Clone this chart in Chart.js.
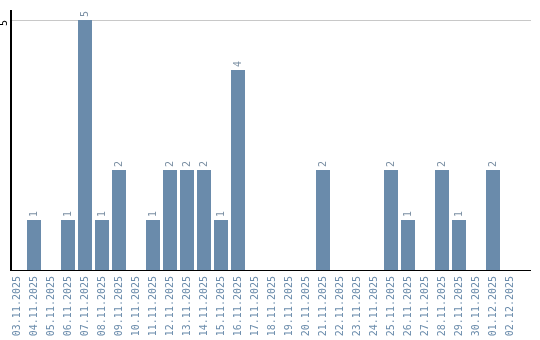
<!DOCTYPE html>
<html>
<head>
<meta charset="utf-8">
<script src="https://cdn.jsdelivr.net/npm/chart.js@4/dist/chart.umd.min.js"></script>
<style>
  html, body { margin: 0; padding: 0; background: #fff; }
  #wrap { width: 540px; height: 340px; }
</style>
</head>
<body>
<div id="wrap"><canvas id="c" width="540" height="340"></canvas></div>
<script>
const categories = ["03.11.2025","04.11.2025","05.11.2025","06.11.2025","07.11.2025","08.11.2025","09.11.2025","10.11.2025","11.11.2025","12.11.2025","13.11.2025","14.11.2025","15.11.2025","16.11.2025","17.11.2025","18.11.2025","19.11.2025","20.11.2025","21.11.2025","22.11.2025","23.11.2025","24.11.2025","25.11.2025","26.11.2025","27.11.2025","28.11.2025","29.11.2025","30.11.2025","01.12.2025","02.12.2025"];
const counts = [0,1,0,1,5,1,2,0,1,2,2,2,1,4,0,0,0,0,2,0,0,0,2,1,0,2,1,0,2,0];
const yTicks = [5];
const yMax = 5.2;

const BAR = 'rgb(106,139,171)';
const LABEL = 'rgb(106,139,171)';
const FONT = '"DejaVu Sans Mono", monospace';

const decor = {
  id: 'decor',
  beforeDatasetsDraw(chart) {
    const ctx = chart.ctx, y = chart.scales.y;
    ctx.save();
    ctx.fillStyle = '#c8c8c8';
    yTicks.forEach(v => {
      const py = Math.round(y.getPixelForValue(v));
      ctx.fillRect(10, py, 521, 1);
    });
    ctx.restore();
  },
  afterDatasetsDraw(chart) {
    const ctx = chart.ctx, a = chart.chartArea;
    ctx.save();
    ctx.fillStyle = '#000';
    ctx.fillRect(10, a.top, 2, a.bottom - a.top + 1);
    ctx.fillRect(10, a.bottom, 521, 1);
    // value labels
    const meta = chart.getDatasetMeta(0);
    ctx.fillStyle = '#7b8fa3';
    ctx.font = '10px ' + FONT;
    ctx.textAlign = 'left';
    ctx.textBaseline = 'middle';
    meta.data.forEach((el, i) => {
      const v = counts[i];
      if (!v) return;
      ctx.save();
      ctx.translate(el.x, el.y - 3);
      ctx.rotate(-Math.PI / 2);
      ctx.fillText(String(v), 0, 0);
      ctx.restore();
    });
    ctx.restore();
  }
};

new Chart(document.getElementById('c'), {
  type: 'bar',
  data: {
    labels: categories,
    datasets: [{
      data: counts,
      backgroundColor: BAR,
      borderWidth: 0,
      categoryPercentage: 1,
      barPercentage: 14 / 17
    }]
  },
  options: {
    responsive: false,
    animation: false,
    devicePixelRatio: 1,
    layout: { padding: { top: 10, right: 21.5, left: 0, bottom: 0 } },
    plugins: { legend: { display: false }, tooltip: { enabled: false } },
    scales: {
      x: {
        offset: true,
        grid: { display: false, drawTicks: false },
        border: { display: false },
        ticks: {
          autoSkip: false,
          minRotation: 90,
          maxRotation: 90,
          padding: 6,
          color: LABEL,
          font: { family: FONT, size: 10 }
        },
        afterFit(s) { s.height = 70; }
      },
      y: {
        min: 0,
        max: yMax,
        grid: { display: false, drawTicks: false },
        border: { display: false },
        afterBuildTicks(s) { s.ticks = yTicks.map(v => ({ value: v })); },
        ticks: {
          minRotation: 90,
          maxRotation: 90,
          padding: 4,
          color: '#000',
          font: { family: FONT, size: 10 }
        },
        afterFit(s) { s.width = 8.5; }
      }
    }
  },
  plugins: [decor]
});
</script>
</body>
</html>
